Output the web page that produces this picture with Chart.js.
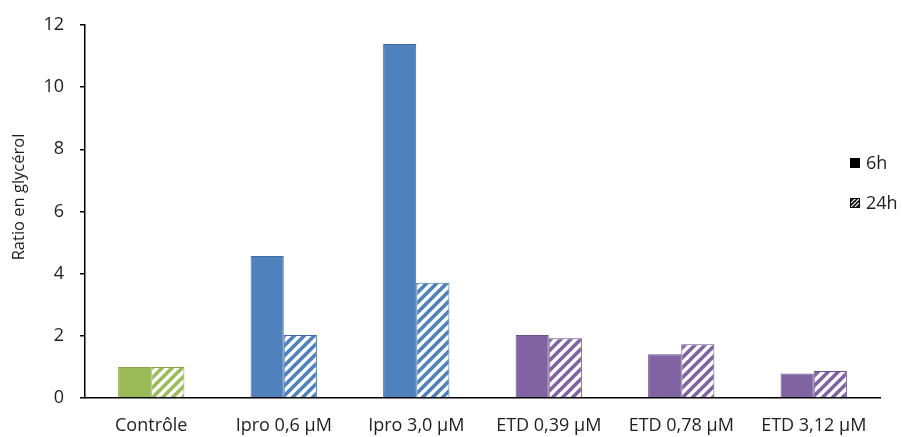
<!DOCTYPE html>
<html>
<head>
<meta charset="utf-8">
<script src="https://cdn.jsdelivr.net/npm/chart.js@4/dist/chart.umd.min.js"></script>
<style>
    html, body { margin: 0; padding: 0; background: #fff; }
    #wrap { width: 902px; height: 437px; }
</style>
</head>
<body>
<div id="wrap"><canvas id="glycerolChart" width="902" height="437"></canvas></div>
<script>
// Chart data
const categories = ['Contrôle', 'Ipro 0,6 µM', 'Ipro 3,0 µM', 'ETD 0,39 µM', 'ETD 0,78 µM', 'ETD 3,12 µM'];
const values6h = [1.0, 4.57, 11.39, 2.03, 1.41, 0.79];
const values24h = [1.0, 2.03, 3.71, 1.92, 1.73, 0.87];
const seriesNames = ['6h', '24h'];
const yTicks = [0, 2, 4, 6, 8, 10, 12];
const yTitle = 'Ratio en glycérol';

// Colours per category
const fillColors = ['#9BBB59', '#4F81BD', '#4F81BD', '#8064A2', '#8064A2', '#8064A2'];
const edgeColors = ['#86A449', '#3F6DA3', '#3F6DA3', '#6A4F8C', '#6A4F8C', '#6A4F8C'];

const FONT = '"Open Sans", "DejaVu Sans", sans-serif';
const TEXT_COLOR = '#1e1e1e';

// Diagonal hatch pattern (white background, coloured "/" stripes)
function makeHatch(color, size, width) {
    const c = document.createElement('canvas');
    c.width = size;
    c.height = size;
    const g = c.getContext('2d');
    g.fillStyle = '#ffffff';
    g.fillRect(0, 0, size, size);
    g.strokeStyle = color;
    g.lineWidth = width;
    g.beginPath();
    g.moveTo(-size / 2, size / 2); g.lineTo(size / 2, -size / 2);
    g.moveTo(0, size); g.lineTo(size, 0);
    g.moveTo(size / 2, size * 1.5); g.lineTo(size * 1.5, size / 2);
    g.stroke();
    return g.createPattern(c, 'repeat');
}

const hatchFills = fillColors.map(col => makeHatch(col, 10, 3.6));

// Custom legend and y title, drawn at fixed spots like the reference
const overlayPlugin = {
    id: 'overlay',
    beforeDraw(chart) {
        const ctx = chart.ctx;
        ctx.save();
        ctx.fillStyle = '#ffffff';
        ctx.fillRect(0, 0, chart.width, chart.height);
        ctx.restore();
    },
    afterDraw(chart) {
        const ctx = chart.ctx;
        ctx.save();
        // y title
        ctx.translate(19, 197);
        ctx.rotate(-Math.PI / 2);
        ctx.fillStyle = TEXT_COLOR;
        ctx.font = '16.5px ' + FONT;
        ctx.textAlign = 'center';
        ctx.textBaseline = 'middle';
        ctx.fillText(yTitle, 0, 0);
        ctx.restore();

        // legend
        ctx.save();
        ctx.font = '18px ' + FONT;
        ctx.textBaseline = 'middle';
        ctx.fillStyle = '#000';
        ctx.fillRect(850, 158, 10, 10);
        ctx.fillStyle = makeHatch('#000', 4, 1.6);
        ctx.fillRect(850, 198, 10, 10);
        ctx.strokeStyle = '#000';
        ctx.lineWidth = 1;
        ctx.strokeRect(850.5, 198.5, 9, 9);
        ctx.fillStyle = TEXT_COLOR;
        ctx.fillText(seriesNames[0], 866, 164);
        ctx.fillText(seriesNames[1], 866, 204);
        ctx.restore();
    }
};

const chart = new Chart(document.getElementById('glycerolChart'), {
    type: 'bar',
    data: {
        labels: categories,
        datasets: [
            {
                label: seriesNames[0],
                data: values6h,
                backgroundColor: fillColors,
                borderColor: edgeColors,
                borderWidth: 1
            },
            {
                label: seriesNames[1],
                data: values24h,
                backgroundColor: hatchFills,
                borderColor: edgeColors,
                borderWidth: 1
            }
        ]
    },
    options: {
        responsive: false,
        animation: false,
        layout: {
            padding: { top: 25, right: 22, left: 0, bottom: 0 }
        },
        datasets: {
            bar: {
                categoryPercentage: 0.5,
                barPercentage: 1.0
            }
        },
        plugins: {
            legend: { display: false },
            tooltip: { enabled: false }
        },
        scales: {
            x: {
                grid: { display: false },
                border: { display: true, color: '#000', width: 1.5 },
                ticks: {
                    color: TEXT_COLOR,
                    font: { family: FONT, size: 18 },
                    padding: 9,
                    maxRotation: 0,
                    autoSkip: false
                },
                afterFit(scale) { scale.height = 39; }
            },
            y: {
                min: 0,
                max: 12,
                afterBuildTicks(scale) {
                    scale.ticks = yTicks.map(v => ({ value: v }));
                },
                grid: {
                    drawOnChartArea: false,
                    drawTicks: true,
                    tickLength: 5,
                    color: '#000',
                    lineWidth: 1.5
                },
                border: { display: true, color: '#000', width: 1.5 },
                ticks: {
                    color: TEXT_COLOR,
                    font: { family: FONT, size: 18 },
                    padding: 16
                },
                afterFit(scale) {
                    scale.width = 85;
                    scale.paddingTop = 0;
                    scale.paddingBottom = 0;
                }
            }
        }
    },
    plugins: [overlayPlugin]
});
</script>
</body>
</html>
